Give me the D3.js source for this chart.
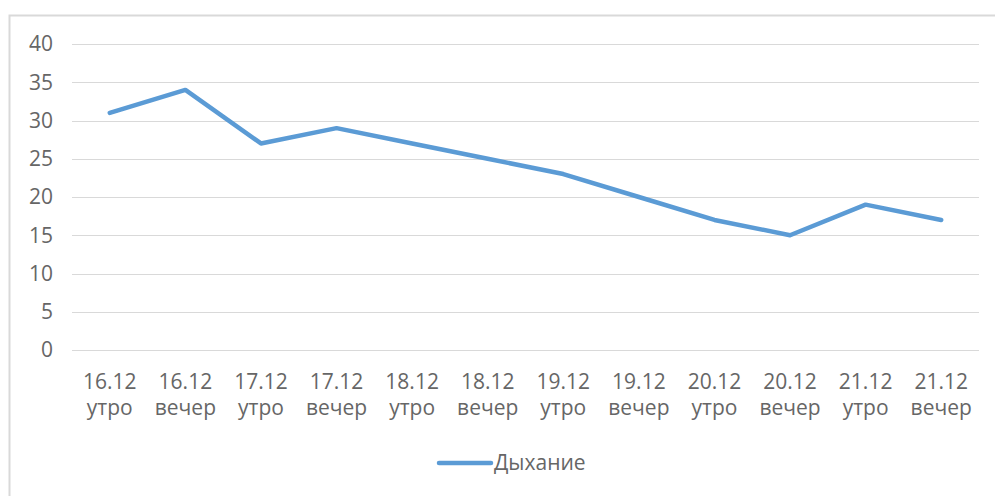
<!DOCTYPE html>
<html>
<head>
<meta charset="utf-8">
<script src="https://cdn.jsdelivr.net/npm/d3@7"></script>
<style>
body { margin: 0; background: #fff; }
text { font-family: "Open Sans", sans-serif; fill: #666; }
</style>
</head>
<body>
<script>
const dates = ["16.12", "16.12", "17.12", "17.12", "18.12", "18.12", "19.12", "19.12", "20.12", "20.12", "21.12", "21.12"];
const parts = ["утро", "вечер", "утро", "вечер", "утро", "вечер", "утро", "вечер", "утро", "вечер", "утро", "вечер"];
const breathing = [31, 34, 27, 29, 27, 25, 23, 20, 17, 15, 19, 17];
const yTicks = [0, 5, 10, 15, 20, 25, 30, 35, 40];
const seriesName = "Дыхание";

const W = 995, H = 496;
const svg = d3.select(document.body).append("svg")
  .attr("width", W).attr("height", H);

// chart frame (light border, top + left visible)
svg.append("rect")
  .attr("x", 9.5).attr("y", 15.5)
  .attr("width", 1000).attr("height", 500)
  .attr("fill", "none").attr("stroke", "#d9d9d9").attr("stroke-width", 2);

const idx = d3.range(breathing.length);
const x = d3.scaleBand().domain(idx).range([72, 979]);
const y = d3.scaleLinear().domain([0, 40]).range([350, 44]);

// gridlines
svg.append("g").selectAll("line").data(yTicks).join("line")
  .attr("x1", 72).attr("x2", 979)
  .attr("y1", d => Math.round(y(d)) + 0.5).attr("y2", d => Math.round(y(d)) + 0.5)
  .attr("stroke", "#d9d9d9").attr("stroke-width", 1);

// y labels
svg.append("g").selectAll("text").data(yTicks).join("text")
  .attr("x", 53).attr("y", d => y(d))
  .attr("dy", "0.35em").attr("text-anchor", "end")
  .attr("font-size", 21)
  .text(d => d);

// x labels (two lines)
const xl = svg.append("g").selectAll("text").data(idx).join("text")
  .attr("text-anchor", "middle")
  .attr("font-size", 21)
  .attr("transform", d => `translate(${x(d) + x.bandwidth() / 2},0)`);
xl.append("tspan").attr("x", 0).attr("y", 389).text(d => dates[d]);
xl.append("tspan").attr("x", 0).attr("y", 415).text(d => parts[d]);

// line
const line = d3.line()
  .x(d => x(d) + x.bandwidth() / 2)
  .y(d => y(breathing[d]));
svg.append("path").datum(idx)
  .attr("d", line)
  .attr("fill", "none")
  .attr("stroke", "#5b9bd5")
  .attr("stroke-width", 4.5)
  .attr("stroke-linejoin", "round")
  .attr("stroke-linecap", "round");

// legend
const lg = svg.append("g");
lg.append("line")
  .attr("x1", 439).attr("x2", 491).attr("y1", 463).attr("y2", 463)
  .attr("stroke", "#5b9bd5").attr("stroke-width", 4.5).attr("stroke-linecap", "round");
lg.append("text")
  .attr("x", 494).attr("y", 463).attr("dy", "0.35em")
  .attr("font-size", 21)
  .text(seriesName);
</script>
</body>
</html>
